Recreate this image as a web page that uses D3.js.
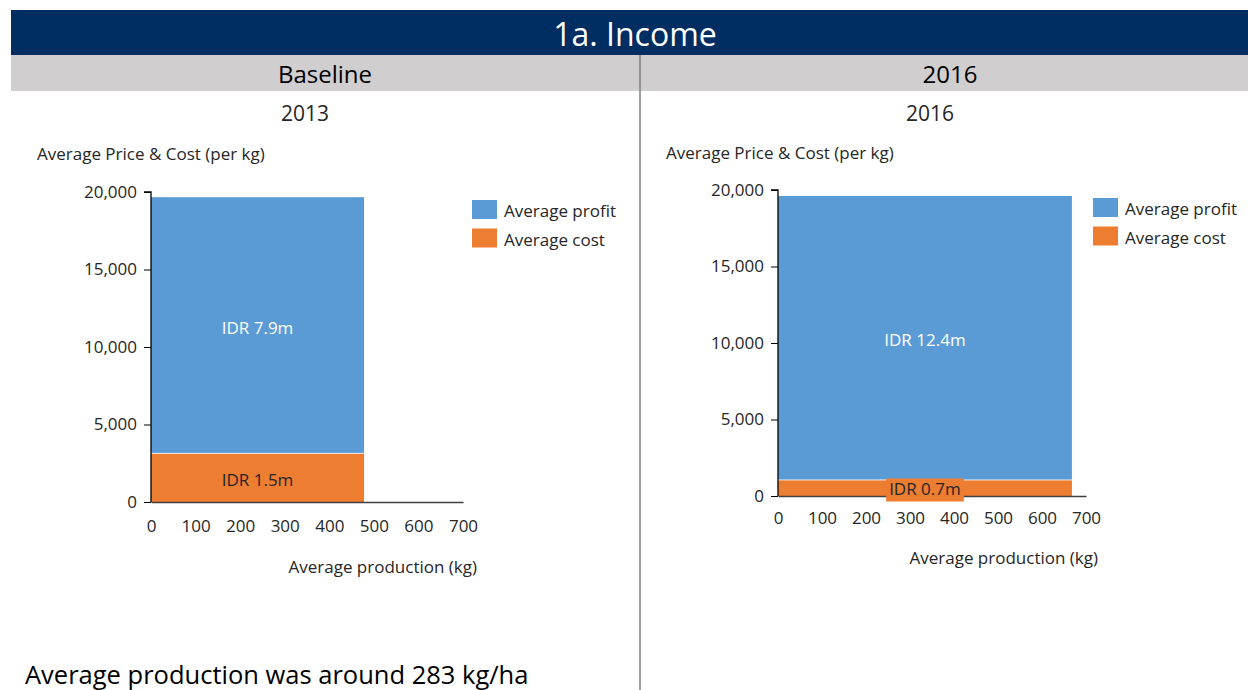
<!DOCTYPE html>
<html>
<head>
<meta charset="utf-8">
<script src="https://cdn.jsdelivr.net/npm/d3@7"></script>
<style>
  html, body { margin: 0; padding: 0; background: #fff; }
  svg { display: block; }
  text { font-family: "Open Sans", "Noto Sans", sans-serif; }
</style>
</head>
<body>
<script>
// Income panels: bar width = average production, bar heights = value per kg
const periods = ["Baseline", "2016"];
const years = ["2013", "2016"];
const production = [478, 668];          // kg
const costTotal = [1.5, 0.7];           // IDR million
const profitTotal = [7.9, 12.4];        // IDR million
const seriesNames = ["Average profit", "Average cost"];
const yTicks = [0, 5000, 10000, 15000, 20000];
const xTicks = [0, 100, 200, 300, 400, 500, 600, 700];

const colors = { profit: "#5B9BD5", cost: "#ED7D31", navy: "#002D62", band: "#D0CECE", ink: "#262626" };

const W = 1248, H = 690;
const svg = d3.select("body").append("svg").attr("width", W).attr("height", H);

// Header bars
svg.append("rect").attr("x", 11).attr("y", 10).attr("width", W - 11).attr("height", 45).attr("fill", colors.navy);
svg.append("text").attr("x", 635).attr("y", 33).attr("text-anchor", "middle").attr("dominant-baseline", "central")
  .attr("fill", "#fff").attr("font-size", 32).text("1a. Income");
svg.append("rect").attr("x", 11).attr("y", 55).attr("width", W - 11).attr("height", 36).attr("fill", colors.band);
svg.append("line").attr("x1", 640).attr("x2", 640).attr("y1", 55).attr("y2", H)
  .attr("stroke", "#7f7f7f").attr("stroke-width", 1.5);

// Panel geometry
const panels = [
  { cx: 325, sub: 305, x0: 151, x1: 463, y0: 502, y1: 192, yTitleX: 37, yTitleY: 153, xTitleX: 477, xTitleY: 566, legX: 472, legY: 200 },
  { cx: 950, sub: 930, x0: 778, x1: 1086, y0: 496, y1: 190, yTitleX: 666, yTitleY: 152, xTitleX: 1098, xTitleY: 557, legX: 1093, legY: 198 }
];

panels.forEach((p, i) => {
  const g = svg.append("g");
  g.append("text").attr("x", p.cx).attr("y", 73).attr("text-anchor", "middle").attr("dominant-baseline", "central")
    .attr("fill", "#000").attr("font-size", 24).text(periods[i]);
  g.append("text").attr("x", p.sub).attr("y", 113).attr("text-anchor", "middle").attr("dominant-baseline", "central")
    .attr("fill", colors.ink).attr("font-size", 21).text(years[i]);

  const x = d3.scaleLinear().domain([0, 700]).range([p.x0, p.x1]);
  const y = d3.scaleLinear().domain([0, 20000]).range([p.y0, p.y1]);

  const costPerKg = costTotal[i] * 1e6 / production[i];
  const profitPerKg = profitTotal[i] * 1e6 / production[i];

  // Stacked area bars
  g.append("rect").attr("x", x(0)).attr("width", x(production[i]) - x(0))
    .attr("y", y(costPerKg + profitPerKg)).attr("height", y(costPerKg) - y(costPerKg + profitPerKg))
    .attr("fill", colors.profit);
  g.append("rect").attr("x", x(0)).attr("width", x(production[i]) - x(0))
    .attr("y", y(costPerKg)).attr("height", y(0) - y(costPerKg))
    .attr("fill", colors.cost);
  g.append("line").attr("x1", x(0)).attr("x2", x(production[i])).attr("y1", y(costPerKg)).attr("y2", y(costPerKg))
    .attr("stroke", "#fff").attr("stroke-width", 1).attr("opacity", 0.8);

  // Y axis
  const ya = g.append("g").attr("transform", `translate(${p.x0},0)`)
    .call(d3.axisLeft(y).tickValues(yTicks).tickFormat(d3.format(",")).tickSize(7).tickPadding(7));
  ya.select(".domain").attr("stroke", "#000").attr("stroke-width", 1.3).attr("d", `M-7,${p.y1}H0V${p.y0}`);
  ya.selectAll(".tick line").attr("stroke", "#000");
  ya.selectAll(".tick text").attr("fill", colors.ink).attr("font-size", 17).attr("font-family", "Open Sans");

  // X axis
  const xa = g.append("g").attr("transform", `translate(0,${p.y0})`)
    .call(d3.axisBottom(x).tickValues(xTicks).tickSize(0).tickPadding(i === 0 ? 18 : 16));
  xa.select(".domain").attr("stroke", "#404040").attr("stroke-width", 1.5);
  xa.selectAll(".tick text").attr("fill", colors.ink).attr("font-size", 17).attr("font-family", "Open Sans");

  // Axis titles
  g.append("text").attr("x", p.yTitleX).attr("y", p.yTitleY).attr("dominant-baseline", "central")
    .attr("fill", colors.ink).attr("font-size", 17).text("Average Price & Cost (per kg)");
  g.append("text").attr("x", p.xTitleX).attr("y", p.xTitleY).attr("text-anchor", "end").attr("dominant-baseline", "central")
    .attr("fill", colors.ink).attr("font-size", 17).text("Average production (kg)");

  // Value labels
  const midX = x(production[i] / 2);
  g.append("text").attr("x", midX).attr("y", (y(costPerKg + profitPerKg) + y(costPerKg)) / 2 + 2)
    .attr("text-anchor", "middle").attr("dominant-baseline", "central")
    .attr("fill", "#fff").attr("font-size", 17).text(`IDR ${profitTotal[i]}m`);
  const costLbl = g.append("text").attr("x", midX)
    .attr("y", i === 0 ? (y(costPerKg) + y(0)) / 2 + 2 : (y(costPerKg) + y(0)) / 2 + 1)
    .attr("text-anchor", "middle").attr("dominant-baseline", "central")
    .attr("fill", colors.ink).attr("font-size", 17).text(`IDR ${costTotal[i]}m`);
  if (i === 1) {
    const bb = costLbl.node().getBBox();
    g.insert("rect", () => costLbl.node())
      .attr("x", bb.x - 3).attr("y", bb.y + 1).attr("width", bb.width + 6).attr("height", bb.height)
      .attr("fill", colors.cost);
  }

  // Legend
  const leg = g.append("g").attr("transform", `translate(${p.legX},${p.legY})`);
  [colors.profit, colors.cost].forEach((c, k) => {
    leg.append("rect").attr("x", 0).attr("y", k * 28.5).attr("width", 25).attr("height", 19).attr("fill", c);
    leg.append("text").attr("x", 32).attr("y", k * 28.5 + 10.5).attr("dominant-baseline", "central")
      .attr("fill", colors.ink).attr("font-size", 17).text(seriesNames[k]);
  });
});

// Footnote
svg.append("text").attr("x", 25).attr("y", 684).attr("fill", "#000").attr("font-size", 25.5)
  .text("Average production was around 283 kg/ha");
</script>
</body>
</html>
